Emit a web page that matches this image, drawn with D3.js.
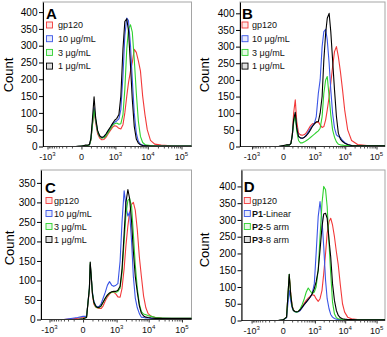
<!DOCTYPE html>
<html>
<head>
<meta charset="utf-8">
<script src="https://cdn.jsdelivr.net/npm/d3@7"></script>
<style>
body { margin: 0; background: #fff; }
svg { display: block; font-family: "Liberation Sans", Arial, sans-serif; }
</style>
</head>
<body>
<svg id="viz" width="387" height="337"></svg>
<script>
// fluorescence intensity of each histogram bin (shared by all panels)
var bins = [-300, -50, 0, 30, 60, 70, 80, 100, 120, 150, 180, 220, 270, 330, 400, 480, 570, 680, 800, 950,
    1100, 1300, 1500, 1750, 2000, 2300, 2600, 3000, 3400, 3900, 4500, 5200, 6000, 7000, 8200, 9600,
    12000, 16000, 25000, 50000, 100000, 260000];

var xTicks = [-1000, 0, 1000, 10000, 100000];
var xTickBase = ["-10", "0", "10", "10", "10"];
var xTickExp = ["3", "", "3", "4", "5"];
var minorTicks = [-900, -800, -700, -600, -500, -400, -300, -200, -100, 100, 200, 300, 400, 500, 600, 700, 800, 900,
    2000, 3000, 4000, 5000, 6000, 7000, 8000, 9000, 20000, 30000, 40000, 50000, 60000, 70000, 80000, 90000];
var yTicks400 = [0, 50, 100, 150, 200, 250, 300, 350, 400];
var yTicks350 = [0, 50, 100, 150, 200, 250, 300, 350];

var colors = ["#f23a3a", "#3a55e6", "#2fd12f", "#000000"];
var legendDose = ["gp120", "10 \u03bcg/mL", "3 \u03bcg/mL", "1 \u03bcg/mL"];
var legendBold = ["", "P1", "P2", "P3"];
var legendPoly = ["gp120", "-Linear", "-5 arm", "-8 arm"];

// panel A
var aGp120 = [0,0,1,3,3,4,5,20,60,108,70,38,25,20,21,28,38,48,57,62,60,54,52,65,100,150,190,225,250,289,280,255,225,150,95,50,18,7,4,2,1,1];
var a10 = [0,0,1,3,3,4,5,22,65,115,80,45,30,26,28,35,45,55,65,72,76,82,110,210,330,382,375,300,200,100,40,15,7,4,3,2,2,1,1,1,1,1];
var a3 = [0,0,1,3,3,4,5,20,60,110,78,45,30,25,26,32,42,52,62,68,70,66,68,95,170,290,350,362,340,260,160,75,30,12,6,4,3,2,1,1,1,1];
var a1 = [0,0,1,4,4,5,6,25,75,148,85,48,32,27,30,38,48,58,68,78,83,95,150,290,372,380,345,240,140,60,22,10,5,3,2,2,1,1,1,1,1,1];

// panel B
var bGp120 = [0,0,2,4,5,7,10,40,100,140,75,40,35,34,36,42,52,62,68,70,72,74,65,57,60,80,110,150,190,240,285,300,270,225,170,110,50,18,6,3,2,2];
var b10 = [0,0,2,4,5,7,10,35,75,95,55,30,25,25,28,35,45,55,62,70,90,160,200,300,345,352,320,250,170,100,55,35,30,27,18,12,6,3,2,2,2,2];
var b3 = [0,0,2,4,5,7,10,35,70,95,45,18,11,11,14,18,22,27,32,37,42,47,55,90,160,200,210,150,95,50,28,14,7,5,4,3,3,2,2,2,2,2];
var b1 = [0,0,3,5,5,7,10,35,80,103,55,30,26,25,28,33,40,50,60,68,74,75,100,150,260,340,385,400,345,260,170,90,40,22,15,10,6,3,2,2,2,2];

// panel C
var cGp120 = [0,3,5,8,75,140,115,65,40,32,30,28,28,35,48,58,65,70,70,65,58,57,80,130,190,240,275,295,300,280,230,160,110,60,30,15,8,5,3,2,2,2];
var c10 = [0,5,8,8,80,140,115,70,48,36,32,33,40,55,70,88,97,88,85,88,92,150,250,330,290,265,275,200,110,55,30,15,6,5,4,4,3,3,2,2,2,2];
var c3 = [0,0,2,6,80,145,118,68,45,33,30,30,34,44,54,62,67,70,71,70,72,80,120,200,270,305,310,290,220,140,80,40,20,14,12,10,8,5,4,3,3,3];
var c1 = [0,0,2,5,80,147,120,65,45,35,31,31,35,45,55,63,68,71,72,72,75,85,130,220,300,333,310,250,175,110,70,35,16,9,6,5,4,3,3,3,3,3];

// panel D
var dGp120 = [0,0,2,10,130,110,80,45,32,27,26,27,32,42,52,60,67,73,77,75,65,57,65,90,140,200,260,295,305,285,250,205,165,105,50,25,10,5,3,2,2,2];
var dP1 = [0,0,2,8,90,75,58,38,30,26,25,26,30,38,47,55,62,70,80,110,200,310,355,300,220,120,65,35,18,10,6,4,3,3,2,2,2,2,2,2,2,2];
var dP2 = [0,0,2,10,138,105,75,42,30,26,25,27,35,48,65,85,97,88,80,85,100,150,250,350,400,390,340,230,140,55,20,8,5,4,3,3,2,2,2,2,2,2];
var dP3 = [0,0,2,10,138,105,75,42,30,27,26,27,32,40,48,55,62,70,80,95,115,150,210,280,318,320,305,240,190,110,60,30,15,8,5,4,3,3,2,2,2,2];

var width = 387, height = 337;

var panels = [
    {id: "A", left: 43, right: 191.5, top: 2, bottom: 146.5, yMax: 430, yTicks: yTicks400, xAt: [47.5, 181.5],
     series: [aGp120, a10, a3, a1], letter: [46, 18.5], legX: 46.5, legY: 25, legStep: 13.7, legTextX: 58, countAt: [8, 75]},
    {id: "B", left: 240, right: 385, top: 2, bottom: 146.5, yMax: 434, yTicks: yTicks400, xAt: [252, 376.5],
     series: [bGp120, b10, b3, b1], letter: [242, 18.5], legX: 242, legY: 25, legStep: 13.7, legTextX: 252, countAt: [204, 75]},
    {id: "C", left: 41, right: 191.5, top: 170, bottom: 319.5, yMax: 383, yTicks: yTicks350, xAt: [49.5, 182],
     series: [cGp120, c10, c3, c1], letter: [45, 193], legX: 46, legY: 200.5, legStep: 13, legTextX: 54, countAt: [9, 248]},
    {id: "D", left: 241.5, right: 385, top: 170, bottom: 320.5, yMax: 449, yTicks: yTicks400, xAt: [251.6, 376.6],
     series: [dGp120, dP1, dP2, dP3], letter: [243.7, 192], legX: 244.3, legY: 200.5, legStep: 13, legTextX: 252, countAt: [204.5, 250], poly: true}
];

var svg = d3.select("#viz").attr("viewBox", [0, 0, width, height]);

var drawPanel = (p) => {
    var x = d3.scaleSymlog().constant(110).domain([-1000, 100000]).range(p.xAt);
    var y = d3.scaleLinear().domain([0, p.yMax]).range([p.bottom, p.top]);
    var g = svg.append("g").attr("class", "panel" + p.id);

    svg.append("clipPath").attr("id", "clip" + p.id)
        .append("rect")
        .attr("x", p.left).attr("y", p.top)
        .attr("width", p.right - p.left).attr("height", p.bottom - p.top);

    // frame
    g.append("rect")
        .attr("x", p.left).attr("y", p.top)
        .attr("width", p.right - p.left).attr("height", p.bottom - p.top)
        .attr("fill", "none").attr("stroke", "#a5a5a5").attr("stroke-width", 1);

    var line = d3.line()
        .x((d, i) => x(bins[i]))
        .y(d => y(d));

    g.append("g").attr("clip-path", "url(#clip" + p.id + ")")
        .selectAll("path")
        .data(p.series)
        .join("path")
        .attr("d", line)
        .attr("fill", "none")
        .attr("stroke", (d, i) => colors[i])
        .attr("stroke-width", 1.1)
        .attr("stroke-linejoin", "round");

    // y axis, labels left as d3 draws them
    svg.append("g")
        .attr("transform", `translate(${p.left},0)`)
        .call(d3.axisLeft(y).tickValues(p.yTicks).tickSize(4).tickSizeOuter(0).tickPadding(1.5));

    // x axis
    var xAxis = g.append("g")
        .attr("transform", `translate(0,${p.bottom})`)
        .call(d3.axisBottom(x).tickValues(xTicks).tickSize(3).tickSizeOuter(0).tickFormat(""));
    xAxis.select(".domain").remove();
    xAxis.selectAll("line").attr("stroke", "#333");

    var xMinor = g.append("g")
        .attr("transform", `translate(0,${p.bottom})`)
        .call(d3.axisBottom(x).tickValues(minorTicks).tickSize(2).tickFormat(""));
    xMinor.select(".domain").remove();
    xMinor.selectAll("line").attr("stroke", "#555");

    g.append("line")
        .attr("x1", p.left).attr("x2", p.right)
        .attr("y1", p.bottom).attr("y2", p.bottom)
        .attr("stroke", "#333");

    var labels = g.append("g").selectAll("text")
        .data(xTicks)
        .join("text")
        .attr("x", d => x(d))
        .attr("y", p.bottom + 13)
        .attr("text-anchor", "middle")
        .attr("font-size", 9)
        .attr("fill", "#111");
    labels.append("tspan").text((d, i) => xTickBase[i]);
    labels.append("tspan")
        .attr("font-size", 6)
        .attr("dy", -4)
        .text((d, i) => xTickExp[i]);

    // panel letter
    g.append("text")
        .attr("x", p.letter[0]).attr("y", p.letter[1])
        .attr("font-size", 15).attr("font-weight", "bold")
        .text(p.id);

    // legend
    var leg = g.append("g").selectAll("g")
        .data(colors)
        .join("g")
        .attr("transform", (d, i) => `translate(0,${p.legY + i * p.legStep})`);
    leg.append("rect")
        .attr("x", p.legX).attr("y", -3)
        .attr("width", 6).attr("height", 6)
        .attr("fill", d => d).attr("fill-opacity", 0.12)
        .attr("stroke", d => d).attr("stroke-width", 0.9);
    var lt = leg.append("text")
        .attr("x", p.legTextX).attr("y", 3.3)
        .attr("font-size", 9)
        .attr("fill", "#111");
    if (p.poly) {
        lt.append("tspan").attr("font-weight", "bold").text((d, i) => legendBold[i]);
        lt.append("tspan").text((d, i) => legendPoly[i]);
    } else {
        lt.text((d, i) => legendDose[i]);
    }

    // y title
    g.append("text")
        .attr("transform", `translate(${p.countAt[0] + 4.5},${p.countAt[1]}) rotate(-90)`)
        .attr("text-anchor", "middle")
        .attr("font-size", 13)
        .text("Count");
};

panels.forEach(drawPanel);
</script>
</body>
</html>
